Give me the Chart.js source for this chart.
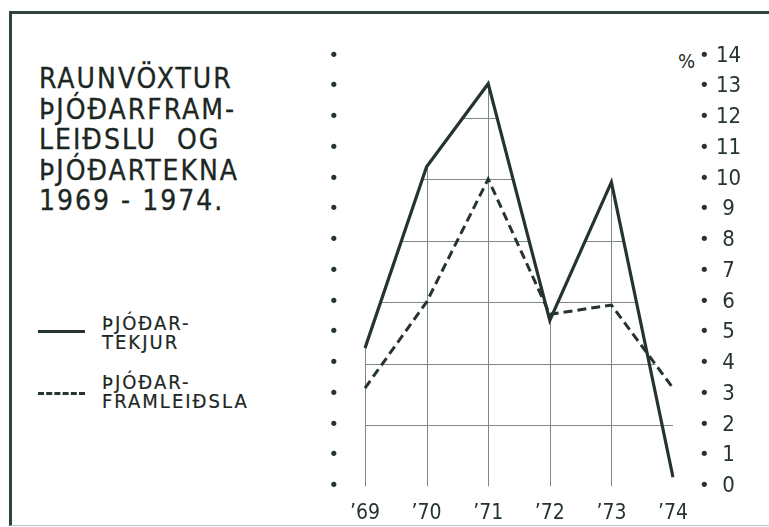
<!DOCTYPE html>
<html lang="is">
<head>
<meta charset="utf-8">
<title>Raunvöxtur þjóðarframleiðslu og þjóðartekna 1969-1974</title>
<script src="https://cdn.jsdelivr.net/npm/chart.js@4/dist/chart.umd.min.js"></script>
<style>
    body { margin: 0; width: 769px; height: 527px; background: #fff; position: relative; overflow: hidden;
           font-family: 'DejaVu Sans Condensed', 'DejaVu Sans', sans-serif; color: #1c2723; }
    .frame { position: absolute; left: 9px; top: 11px; width: 780px; height: 511px;
             border-top: 3px solid #2e4439; border-left: 3px solid #2e4439; border-bottom: 1px solid #b9c6bf; }
    .title { position: absolute; left: 39px; top: 64px; font-size: 28px; line-height: 30.5px; letter-spacing: 2px;
             -webkit-text-stroke: 0.3px #1c2723; }
    .legend-item { position: absolute; left: 38px; }
    .legend-item .sample { position: absolute; left: 0; width: 47px; }
    .legend-item .text { position: absolute; left: 64px; top: 0; font-size: 20px; line-height: 18.5px;
                         letter-spacing: 2px; white-space: nowrap; -webkit-text-stroke: 0.2px #1c2723; }
    .solid { border-top: 3.5px solid #26342e; }
    .dashed { border-top: 3px dashed #26342e; }
    .pct { position: absolute; left: 678px; top: 49px; font-size: 20px; }
    #chart { position: absolute; left: 300px; top: 0; }
</style>
</head>
<body>
<div class="frame"></div>
<div class="title">RAUNVÖXTUR<br>ÞJÓÐARFRAM-<br>LEIÐSLU&nbsp; OG<br>ÞJÓÐARTEKNA<br>1969 - 1974.</div>
<div class="legend-item" style="top:314px">
    <div class="sample solid" style="top:16px"></div>
    <div class="text">ÞJÓÐAR-<br>TEKJUR</div>
</div>
<div class="legend-item" style="top:373px">
    <div class="sample dashed" style="top:19px"></div>
    <div class="text">ÞJÓÐAR-<br>FRAMLEIÐSLA</div>
</div>
<div class="pct">%</div>
<canvas id="chart" width="469" height="527"></canvas>

<script>
// ár (x-ás)
const years = ['\u201969', '\u201970', '\u201971', '\u201972', '\u201973', '\u201974'];
// raunvöxtur í %
const thjodartekjur = [4.5, 10.4, 13.1, 5.4, 9.9, 0.3];
const thjodarframleidsla = [3.2, 6.0, 10.0, 5.6, 5.9, 3.2];
// y-ás
const yMin = 0;
const yMax = 14;
const gridValues = [2, 4, 6, 8, 10, 12];

const ink = '#26342e';
const font = 'DejaVu Sans Condensed';

// grid is only drawn under the curves
const clippedGrid = {
    id: 'clippedGrid',
    beforeDatasetsDraw(chart) {
        const ctx = chart.ctx;
        const x = chart.scales.x;
        const y = chart.scales.y;
        ctx.save();
        ctx.beginPath();
        chart.data.datasets.forEach(ds => {
            ctx.moveTo(x.getPixelForValue(0), y.getPixelForValue(0));
            ds.data.forEach((v, i) => ctx.lineTo(x.getPixelForValue(i), y.getPixelForValue(v)));
            ctx.lineTo(x.getPixelForValue(ds.data.length - 1), y.getPixelForValue(0));
            ctx.closePath();
        });
        ctx.clip();
        ctx.strokeStyle = '#7d8783';
        ctx.lineWidth = 1;
        ctx.beginPath();
        gridValues.forEach(v => {
            const py = Math.round(y.getPixelForValue(v)) + 0.5;
            ctx.moveTo(chart.chartArea.left, py);
            ctx.lineTo(chart.chartArea.right, py);
        });
        years.forEach((_, i) => {
            const px = Math.round(x.getPixelForValue(i)) + 0.5;
            ctx.moveTo(px, y.getPixelForValue(yMin));
            ctx.lineTo(px, chart.chartArea.top);
        });
        ctx.stroke();
        ctx.restore();
    }
};

function dotAxis(position, weight, width) {
    return {
        position: position,
        weight: weight,
        min: yMin,
        max: yMax,
        grid: { display: false, drawTicks: false },
        border: { display: false },
        ticks: {
            stepSize: 1,
            padding: 26,
            color: ink,
            font: { family: 'DejaVu Sans', size: 18 },
            callback: () => '\u2022'
        },
        afterFit: s => { s.width = width; }
    };
}

new Chart(document.getElementById('chart'), {
    type: 'line',
    data: {
        labels: years,
        datasets: [
            {
                label: 'ÞJÓÐARTEKJUR',
                data: thjodartekjur,
                borderColor: ink,
                borderWidth: 3.2,
                borderJoinStyle: 'miter',
                pointRadius: 0,
                tension: 0,
                yAxisID: 'y'
            },
            {
                label: 'ÞJÓÐARFRAMLEIÐSLA',
                data: thjodarframleidsla,
                borderColor: ink,
                borderWidth: 3,
                borderDash: [9, 5],
                pointRadius: 0,
                tension: 0,
                yAxisID: 'y'
            }
        ]
    },
    options: {
        responsive: false,
        animation: false,
        layout: { padding: { top: 56, left: 0, right: 0, bottom: 0 } },
        plugins: {
            legend: { display: false },
            tooltip: { enabled: false }
        },
        scales: {
            x: {
                offset: false,
                grid: { display: false, drawTicks: false },
                border: { display: false },
                ticks: {
                    padding: 14,
                    color: ink,
                    font: { family: font, size: 21 },
                    maxRotation: 0
                },
                afterFit: s => { s.height = 40.5; }
            },
            y: dotAxis('left', 0, 65),
            yDots: dotAxis('right', 0, 38),
            yNum: {
                position: 'right',
                weight: 1,
                min: yMin,
                max: yMax,
                grid: { display: false, drawTicks: false },
                border: { display: false },
                ticks: {
                    stepSize: 1,
                    padding: 5,
                    crossAlign: 'center',
                    color: ink,
                    font: { family: font, size: 22 }
                },
                afterFit: s => { s.width = 58; }
            }
        }
    },
    plugins: [clippedGrid]
});
</script>
</body>
</html>
